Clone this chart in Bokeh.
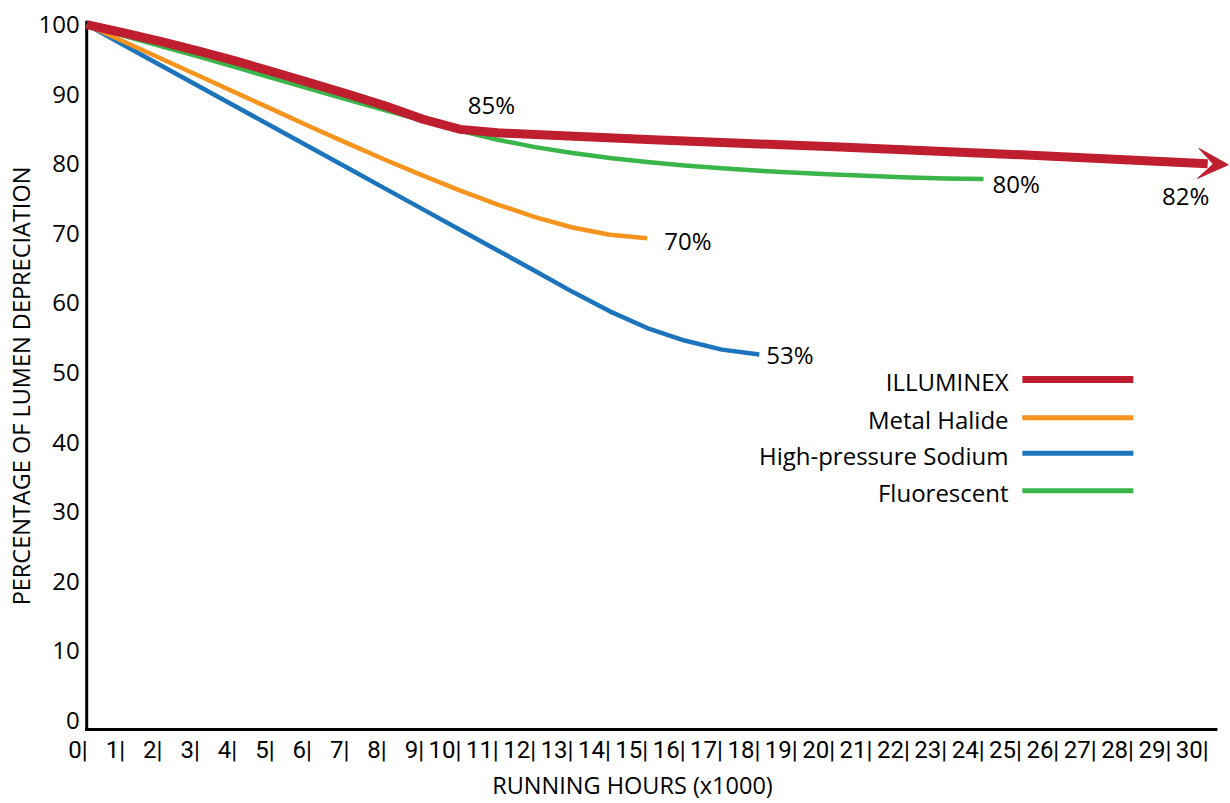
from bokeh.plotting import figure
from bokeh.models import (ColumnDataSource, LabelSet, Label, FixedTicker, Range1d,
                          Arrow, VeeHead)
from bokeh.core.properties import value
from bokeh.embed import file_html
from bokeh.resources import INLINE

FONT = "Open Sans"
TICK_FONT = "Roboto"
RED, ORANGE, BLUE, GREEN = "#BE1E2D", "#F7941D", "#1C75BC", "#39B54A"

# ---------------- data ----------------
hour_ticks = list(range(0, 31))
hour_tick_labels = [f"{h}|" for h in hour_ticks]
pct_ticks = list(range(0, 101, 10))
pct_tick_labels = [str(v) for v in pct_ticks]

illuminex_hours = [0, 1, 2, 3, 4, 5, 6, 7, 8, 9, 10, 11, 12, 15, 18, 20, 25, 30]
illuminex_pct = [100, 98.8, 97.55, 96.2, 94.75, 93.2, 91.6, 90.0, 88.3, 86.4, 84.95,
                 84.45, 84.2, 83.5, 82.85, 82.45, 81.3, 80.0]

metal_hours = list(range(0, 16))
metal_pct = [100, 97.55, 95.1, 92.65, 90.2, 87.75, 85.3, 82.9, 80.55, 78.3, 76.15,
             74.15, 72.35, 70.85, 69.8, 69.3]

sodium_hours = list(range(0, 19))
sodium_pct = [100, 97.05, 94.1, 91.15, 88.2, 85.25, 82.3, 79.35, 76.4, 73.45, 70.5,
              67.55, 64.6, 61.6, 58.8, 56.4, 54.6, 53.3, 52.6]

fluor_hours = list(range(0, 25))
fluor_pct = [100, 98.4, 96.9, 95.4, 93.85, 92.3, 90.75, 89.2, 87.7, 86.2, 84.75,
             83.45, 82.4, 81.55, 80.85, 80.25, 79.75, 79.35, 79.0, 78.7, 78.45,
             78.25, 78.05, 77.9, 77.8]

series_names = ["ILLUMINEX", "Metal Halide", "High-pressure Sodium", "Fluorescent"]
series_colors = [RED, ORANGE, BLUE, GREEN]

callout_text = ["85%", "70%", "53%", "80%", "82%"]
callout_series = [0, 1, 2, 3, 0]
callout_hours = [10, 15, 18, 24, 30]

# ---------------- figure ----------------
X_START, X_END = -1.397, 30.61     # frame reaches left of the y-axis line to hold tick labels
Y_AXIS = -1.3                      # level of the drawn x-axis line
AXIS_TOP = 100.57                  # top of the drawn y-axis line
Y_START, Y_END = -6.18, 102.32     # frame reaches below the x-axis line to hold tick labels
p = figure(width=1230, height=803, x_range=Range1d(X_START, X_END),
           y_range=Range1d(Y_START, Y_END),
           output_backend="svg", toolbar_location=None,
           min_border_left=34, min_border_right=0, min_border_top=8, min_border_bottom=38)
p.xgrid.visible = False
p.ygrid.visible = False
p.outline_line_color = None
p.background_fill_color = "white"
p.border_fill_color = "white"

yax = p.yaxis[0]
yax.ticker = FixedTicker(ticks=[])
yax.major_tick_in = 0
yax.major_tick_out = 0
yax.minor_tick_in = 0
yax.minor_tick_out = 0
yax.axis_line_color = None
yax.major_label_standoff = 0
yax.axis_label = "PERCENTAGE OF LUMEN DEPRECIATION"
yax.axis_label_text_font = FONT
yax.axis_label_text_font_size = "23.5px"
yax.axis_label_text_font_style = "normal"
yax.axis_label_text_color = "black"
yax.axis_label_standoff = -2

xax = p.xaxis[0]
xax.ticker = FixedTicker(ticks=[])
xax.minor_tick_in = 0
xax.minor_tick_out = 0
xax.major_tick_in = 0
xax.major_tick_out = 0
xax.axis_line_color = None
xax.major_label_standoff = 0
xax.axis_label = "RUNNING HOURS (x1000)"
xax.axis_label_text_font = FONT
xax.axis_label_text_font_size = "23.5px"
xax.axis_label_text_font_style = "normal"
xax.axis_label_text_color = "black"
xax.axis_label_standoff = 5

# axis lines
p.segment(x0=[0], y0=[Y_AXIS - 0.2], x1=[0], y1=[AXIS_TOP], line_color="black", line_width=3)
p.segment(x0=[-0.04], y0=[Y_AXIS], x1=[30.26], y1=[Y_AXIS], line_color="black", line_width=3)

# y tick labels
ytick_src = ColumnDataSource(dict(x=[0] * len(pct_ticks), y=pct_ticks, text=pct_tick_labels))
p.add_layout(LabelSet(x="x", y="y", text="text", source=ytick_src,
                      text_align="right", text_baseline="middle", x_offset=-7,
                      text_font=value(FONT), text_font_size="24px", text_color="black"))

# x tick labels "0|", "1|", ... with the bar at the tick position
xtick_src = ColumnDataSource(dict(x=hour_ticks, y=[Y_AXIS] * len(hour_ticks), text=hour_tick_labels))
p.add_layout(LabelSet(x="x", y="y", text="text", source=xtick_src,
                      text_align="right", text_baseline="top", y_offset=-6, x_offset=1,
                      text_font=value(TICK_FONT), text_font_size="24px", text_color="black"))

# ---------------- curves ----------------
all_hours = [illuminex_hours, metal_hours, sodium_hours, fluor_hours]
all_pct = [illuminex_pct, metal_pct, sodium_pct, fluor_pct]
widths = [9, 4.5, 4.5, 4.5]
for i in [2, 1, 3, 0]:
    p.line(all_hours[i], all_pct[i], line_color=series_colors[i], line_width=widths[i],
           line_join="round")

# arrow head continuing the ILLUMINEX line
x1, y1 = illuminex_hours[-1], illuminex_pct[-1]
x0, y0 = illuminex_hours[-2], illuminex_pct[-2]
ext = 0.55
slope = (y1 - y0) / (x1 - x0)
p.add_layout(Arrow(end=VeeHead(size=30, fill_color=RED, line_color=RED, line_width=1),
                   x_start=x1 - 0.3, y_start=y1 - 0.3 * slope,
                   x_end=x1 + ext, y_end=y1 + ext * slope,
                   line_alpha=0, line_width=1))

# ---------------- callouts ----------------
callout_style = [
    dict(text_align="center", x_offset=31, y_offset=25),
    dict(text_align="left", x_offset=17, y_offset=-2),
    dict(text_align="left", x_offset=7, y_offset=0),
    dict(text_align="left", x_offset=9, y_offset=-4),
    dict(text_align="center", x_offset=-22, y_offset=-32),
]
for t, s, h, st in zip(callout_text, callout_series, callout_hours, callout_style):
    yv = all_pct[s][all_hours[s].index(h)]
    p.add_layout(Label(x=h, y=yv, text=t, text_baseline="middle",
                       text_font=FONT, text_font_size="24px", text_color="black", **st))

# ---------------- legend (text left of line) ----------------
LEG_TEXT_X, LEG_X0, LEG_X1 = 24.67, 25.04, 28.01
LEG_Y = [49.0, 43.5, 38.4, 33.0]
leg_widths = [7, 5, 5, 5]
for name, col, ly, lw in zip(series_names, series_colors, LEG_Y, leg_widths):
    p.segment(x0=[LEG_X0], y0=[ly], x1=[LEG_X1], y1=[ly], line_color=col, line_width=lw)
    p.add_layout(Label(x=LEG_TEXT_X, y=ly, text=name, text_align="right",
                       text_baseline="middle", y_offset=-2,
                       text_font=FONT, text_font_size="24px", text_color="black"))

open("out.html", "w").write(file_html(p, INLINE))
